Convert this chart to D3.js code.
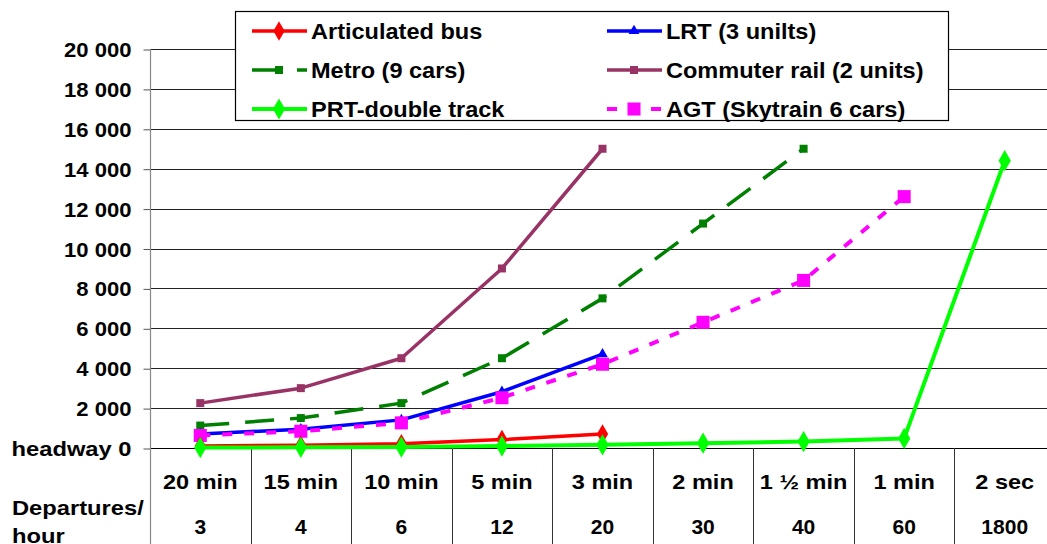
<!DOCTYPE html>
<html>
<head>
<meta charset="utf-8">
<script src="https://cdn.jsdelivr.net/npm/d3@7"></script>
<style>
  html, body { margin: 0; padding: 0; background: #fff; }
  svg { display: block; }
  text { font-family: "Liberation Sans", Arial, sans-serif; font-weight: bold; fill: #000; }
</style>
</head>
<body>
<svg id="chart" width="1047" height="544"></svg>
<script>
// Headway per departure column and matching departures per hour
const headways = ["20 min", "15 min", "10 min", "5 min", "3 min", "2 min", "1 \u00bd min", "1 min", "2 sec"];
const departures = ["3", "4", "6", "12", "20", "30", "40", "60", "1800"];
const yTicks = [0, 2000, 4000, 6000, 8000, 10000, 12000, 14000, 16000, 18000, 20000];

// Passengers per hour per direction for each mode
const articulatedBus = [105, 140, 210, 420, 700];
const lrt = [705, 940, 1410, 2820, 4700];
const metro = [1125, 1500, 2250, 4500, 7500, 11250, 15000];
const commuterRail = [2250, 3000, 4500, 9000, 15000];
const prt = [24, 32, 48, 96, 160, 240, 320, 480, 14400];
const agt = [630, 840, 1260, 2520, 4200, 6300, 8400, 12600];

const seriesNames = ["Articulated bus", "LRT (3 unilts)", "Metro (9 cars)", "Commuter rail (2 units)", "PRT-double track", "AGT (Skytrain 6 cars)"];
const seriesValues = [articulatedBus, lrt, metro, commuterRail, prt, agt];

const styles = [
  { color: "#FF0000", width: 3.5, dash: null, marker: "diamond", size: 110 },
  { color: "#0000FF", width: 3.5, dash: null, marker: "triangle", size: 50 },
  { color: "#008000", width: 3.5, dash: "29,16", marker: "square", size: 64 },
  { color: "#993366", width: 3.5, dash: null, marker: "square", size: 64 },
  { color: "#00FF00", width: 4, dash: null, marker: "diamond", size: 130 },
  { color: "#FF00FF", width: 4, dash: "10,12", marker: "square", size: 170 }
];

const svg = d3.select("#chart");
const margin = { left: 150, top: 49, right: 1055, bottom: 448 };

const x = d3.scaleBand().domain(headways).range([margin.left, margin.right]).padding(0);
const y = d3.scaleLinear().domain([0, 20000]).range([margin.bottom, margin.top]);
const fmt = v => v === 0 ? "headway 0" : d3.format(",")(v).replace(/,/g, " ");

// Widen bold labels horizontally around their anchor point
function widen(sel, sx) {
  sel.each(function () {
    const t = d3.select(this);
    const tx = +t.attr("x") || 0;
    const ty = +t.attr("y") || 0;
    t.attr("x", 0).attr("y", 0).attr("transform", `translate(${tx},${ty}) scale(${sx},1)`);
  });
}

// Horizontal gridlines
svg.append("g").selectAll("line").data(yTicks).join("line")
  .attr("x1", margin.left).attr("x2", 1047)
  .attr("y1", d => Math.round(y(d)) + 0.5).attr("y2", d => Math.round(y(d)) + 0.5)
  .attr("stroke", d => d === 0 ? "#000" : "#222").attr("stroke-width", 1);

// Y axis with value labels
const yAxis = d3.axisLeft(y).tickValues(yTicks).tickSize(7).tickPadding(12).tickFormat(fmt);
const gy = svg.append("g").attr("transform", `translate(${margin.left + 0.5},0)`).call(yAxis);
gy.select(".domain").remove();
gy.selectAll(".tick line").attr("stroke", "#555").attr("transform", "translate(0,0.5)");
gy.selectAll(".tick text").style("font-size", "21px").attr("dy", "0.36em")
  .style("font-family", "'Liberation Sans', Arial, sans-serif").style("font-weight", "bold").attr("fill", "#000");
widen(gy.selectAll(".tick text").filter(d => d !== 0), 1.05);
widen(gy.selectAll(".tick text").filter(d => d === 0), 1.13);

// Axis line continuing down through the table
svg.append("line").attr("x1", margin.left + 0.5).attr("x2", margin.left + 0.5)
  .attr("y1", margin.top).attr("y2", 544).attr("stroke", "#888").attr("stroke-width", 1.2);

// Column separators of the headway / departures table
const bounds = headways.slice(1).map(h => x(h));
svg.append("g").selectAll("line").data(bounds).join("line")
  .attr("x1", d => Math.round(d) + 0.5).attr("x2", d => Math.round(d) + 0.5)
  .attr("y1", margin.bottom).attr("y2", 544)
  .attr("stroke", "#333").attr("stroke-width", 1);

// Table rows
const row1 = svg.append("g").selectAll("text").data(headways).join("text")
  .attr("x", d => x(d) + x.bandwidth() / 2).attr("y", 489)
  .attr("text-anchor", "middle").style("font-size", "21px").text(d => d);
widen(row1, 1.12);
svg.append("g").selectAll("text").data(departures).join("text")
  .attr("x", (d, i) => x(headways[i]) + x.bandwidth() / 2).attr("y", 534)
  .attr("text-anchor", "middle").style("font-size", "21px").text(d => d);
const rowHead = svg.append("g");
rowHead.append("text").attr("x", 12).attr("y", 515).style("font-size", "21px").text("Departures/");
rowHead.append("text").attr("x", 12).attr("y", 543).style("font-size", "21px").text("hour");
widen(rowHead.selectAll("text"), 1.13);

// Series lines and markers
const symbolType = { diamond: d3.symbolDiamond, triangle: d3.symbolTriangle, square: d3.symbolSquare };
const line = d3.line().x((d, i) => x(headways[i]) + x.bandwidth() / 2).y(d => y(d));
const drawOrder = [3, 2, 1, 5, 0, 4];
drawOrder.forEach(k => {
  const s = styles[k];
  const vals = seriesValues[k];
  svg.append("path").datum(vals)
    .attr("d", line).attr("fill", "none")
    .attr("stroke", s.color).attr("stroke-width", s.width)
    .attr("stroke-dasharray", s.dash).attr("stroke-linejoin", "round");
  svg.append("g").selectAll("path").data(vals).join("path")
    .attr("transform", (d, i) => `translate(${x(headways[i]) + x.bandwidth() / 2},${y(d)})`)
    .attr("d", d3.symbol().type(symbolType[s.marker]).size(s.size))
    .attr("fill", s.color);
});

// Legend
const legend = svg.append("g");
legend.append("rect").attr("x", 235.5).attr("y", 11.5).attr("width", 713).attr("height", 109)
  .attr("fill", "#fff").attr("stroke", "#000").attr("stroke-width", 1.2);
const colX = [252, 607];
const rowY = [31, 70, 109];
seriesNames.forEach((name, i) => {
  const s = styles[i];
  const lx = colX[i % 2];
  const ly = rowY[Math.floor(i / 2)];
  const g = legend.append("g");
  g.append("line").attr("x1", lx).attr("x2", lx + 55).attr("y1", ly).attr("y2", ly)
    .attr("stroke", s.color).attr("stroke-width", s.width).attr("stroke-dasharray", s.dash);
  g.append("path").attr("transform", `translate(${lx + 27},${ly})`)
    .attr("d", d3.symbol().type(symbolType[s.marker]).size(s.size)).attr("fill", s.color);
  const t = g.append("text").attr("x", lx + 59).attr("y", ly).attr("dy", "0.36em")
    .style("font-size", "22px").text(name);
  widen(t, 1.07);
});
</script>
</body>
</html>
